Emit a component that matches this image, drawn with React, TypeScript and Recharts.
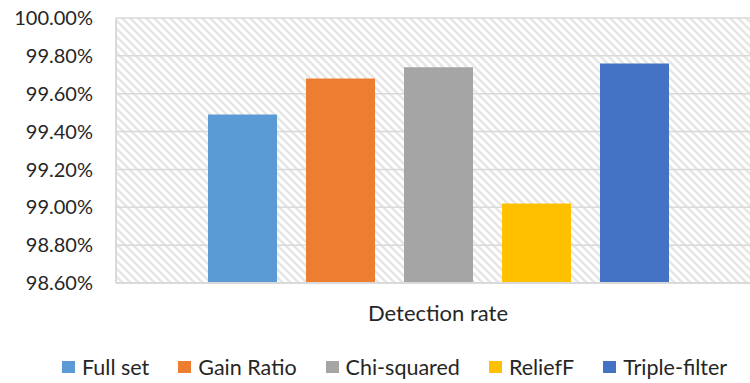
import React from 'react';
import { BarChart, Bar, XAxis, YAxis, CartesianGrid, Legend } from 'recharts';

const categories = ['Detection rate'];
const seriesNames = ['Full set', 'Gain Ratio', 'Chi-squared', 'ReliefF', 'Triple-filter'];
const seriesValues = [99.49, 99.68, 99.74, 99.02, 99.76];
const seriesColors = ['#5b9bd5', '#ed7d31', '#a5a5a5', '#ffc000', '#4472c4'];
const yTicks = [98.6, 98.8, 99.0, 99.2, 99.4, 99.6, 99.8, 100.0];

const data = categories.map((name) => {
  const row: any = { name };
  seriesNames.forEach((s, i) => {
    row[s] = seriesValues[i];
  });
  return row;
});

const FONT = 'Lato, "Open Sans", sans-serif';
const TEXT = '#262626';

const LegendContent = () => (
  <div style={{ display: 'flex', alignItems: 'center', fontFamily: FONT, fontSize: 21.5, color: TEXT }}>
    {seriesNames.map((s, i) => (
      <div key={s} style={{ display: 'flex', alignItems: 'center', marginRight: i < seriesNames.length - 1 ? 29 : 0 }}>
        <span style={{ width: 13, height: 12, background: seriesColors[i], display: 'inline-block', marginRight: 7 }} />
        <span style={{ lineHeight: '24px' }}>{s}</span>
      </div>
    ))}
  </div>
);

export default function App() {
  return (
    <div style={{ position: 'absolute', left: 0, top: 0, width: 750, height: 383, overflow: 'hidden', background: '#fff' }}>
      <BarChart
        width={770}
        height={383}
        data={data}
        margin={{ top: 18, right: 10, left: 0, bottom: 36 }}
        barSize={69}
        barGap={29}
      >
        <defs>
          <pattern id="hatch" patternUnits="userSpaceOnUse" width="8" height="8">
            <rect width="8" height="8" fill="#ffffff" />
            <path d="M0,0 L8,8 M-2,6 L2,10 M6,-2 L10,2" stroke="#e6e6e6" strokeWidth="2.6" />
          </pattern>
        </defs>
        <CartesianGrid vertical={false} stroke="#d9d9d9" strokeWidth={1.5} fill="url(#hatch)" fillOpacity={1} />
        <XAxis
          dataKey="name"
          height={40}
          tickLine={false}
          tickSize={0}
          tickMargin={22}
          axisLine={{ stroke: '#d9d9d9', strokeWidth: 2 }}
          tick={{ fill: TEXT, fontSize: 22, fontFamily: FONT }}
        />
        <YAxis
          width={116}
          domain={[98.6, 100]}
          ticks={yTicks}
          allowDataOverflow
          tickLine={false}
          tickSize={0}
          tickMargin={23}
          axisLine={{ stroke: '#d9d9d9', strokeWidth: 2 }}
          tickFormatter={(v: number) => v.toFixed(2) + '%'}
          tick={{ fill: TEXT, fontSize: 20, fontFamily: FONT }}
        />
        <Legend
          verticalAlign="bottom"
          content={<LegendContent />}
          wrapperStyle={{ position: 'absolute', left: 62, top: 355, width: 'auto' }}
        />
        {seriesNames.map((s, i) => (
          <Bar key={s} dataKey={s} fill={seriesColors[i]} isAnimationActive={false} />
        ))}
      </BarChart>
    </div>
  );
}
